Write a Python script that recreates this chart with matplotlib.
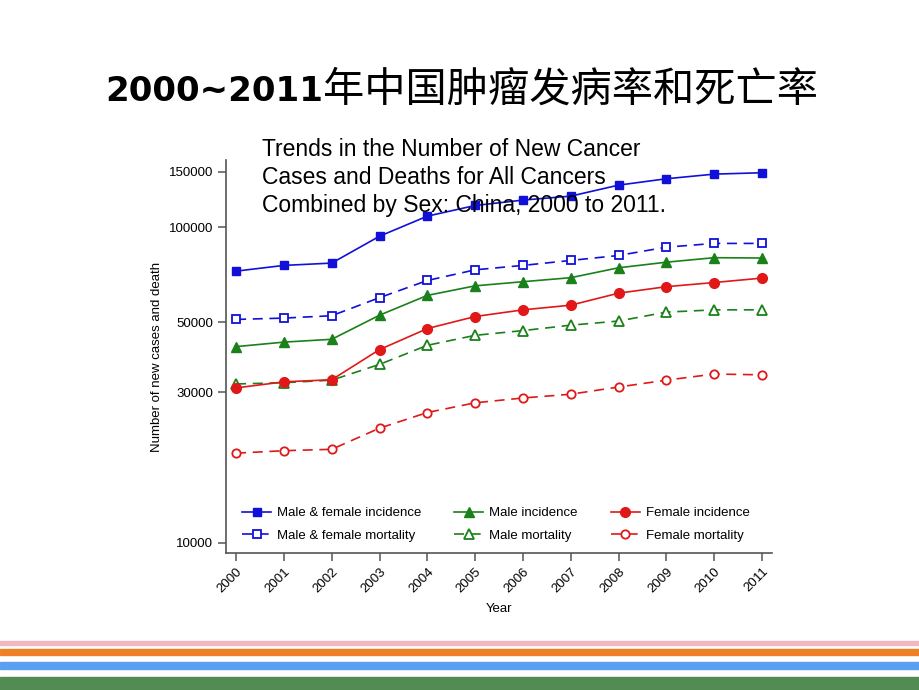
import matplotlib.pyplot as plt
from matplotlib.ticker import FixedLocator, NullLocator

years = [2000, 2001, 2002, 2003, 2004, 2005, 2006, 2007, 2008, 2009, 2010, 2011]
mf_incidence = [72700, 75800, 77100, 93800, 108600, 117400, 122100, 125700, 136200, 142700, 147600, 149100]
mf_mortality = [51100, 51600, 52500, 59900, 67900, 73400, 75800, 78600, 81500, 86600, 89000, 89000]
m_incidence = [41900, 43300, 44200, 52700, 60900, 65300, 67300, 69300, 74500, 77600, 80200, 80000]
m_mortality = [31900, 32200, 32800, 36800, 42300, 45500, 47100, 49000, 50500, 53900, 54800, 54800]
f_incidence = [31000, 32400, 32900, 41000, 47800, 52200, 54800, 56700, 61900, 64900, 66900, 69100]
f_mortality = [19250, 19600, 19800, 23100, 25900, 27800, 28800, 29600, 31200, 32800, 34300, 34100]
y_ticks = [10000, 30000, 50000, 100000, 150000]

blue = '#1010d8'
green = '#1a801a'
red = '#e01818'

plt.rcParams['font.family'] = ['Liberation Sans', 'DejaVu Sans']

fig = plt.figure(figsize=(9.2, 6.9), dpi=100)
ax = fig.add_axes([0.2457, 0.1986, 0.5935, 0.5696])

ms = 6
ax.plot(years, mf_incidence, '-s', color=blue, mfc=blue, mec=blue, ms=ms, lw=1.2, label='Male & female incidence')
ax.plot(years, mf_mortality, '--s', color=blue, mfc='white', mec=blue, mew=1.3, ms=ms, lw=1.2, dashes=(6, 4), label='Male & female mortality')
ax.plot(years, m_incidence, '-^', color=green, mfc=green, mec=green, ms=ms + 1, lw=1.2, label='Male incidence')
ax.plot(years, m_mortality, '--^', color=green, mfc='white', mec=green, mew=1.3, ms=ms + 1, lw=1.2, dashes=(6, 4), label='Male mortality')
ax.plot(years, f_incidence, '-o', color=red, mfc=red, mec=red, ms=ms + 1, lw=1.2, label='Female incidence')
ax.plot(years, f_mortality, '--o', color=red, mfc='white', mec=red, mew=1.3, ms=ms, lw=1.2, dashes=(6, 4), label='Female mortality')

ax.set_yscale('log')
ax.set_ylim(9290, 163700)
ax.set_xlim(1999.79, 2011.21)
ax.yaxis.set_major_locator(FixedLocator(y_ticks))
ax.yaxis.set_minor_locator(NullLocator())
ax.set_yticklabels([str(v) for v in y_ticks])
ax.set_xticks(years)
ax.set_xticklabels([str(y) for y in years], rotation=45, ha='right', rotation_mode='anchor')

for s in ['top', 'right']:
    ax.spines[s].set_visible(False)
for s in ['left', 'bottom']:
    ax.spines[s].set_color('#555555')
    ax.spines[s].set_linewidth(1.2)
ax.tick_params(axis='both', colors='#555555', labelcolor='black', labelsize=9.5, length=6, width=1.1)
ax.tick_params(axis='x', pad=3)

ax.set_ylabel('Number of new cases and death', fontsize=9.5, labelpad=4)
ax.set_xlabel('Year', fontsize=9.5, labelpad=6)

ax.legend(loc='lower left', bbox_to_anchor=(16 / 546, 0.028), ncol=3, frameon=False, fontsize=9.5,
          handlelength=2.2, handletextpad=0.45, columnspacing=2.5, borderaxespad=0, borderpad=0,
          labelspacing=0.8)

fig.text(262 / 920, 1 - 138 / 690, 'Trends in the Number of New Cancer\nCases and Deaths for All Cancers\nCombined by Sex: China, 2000 to 2011.',
         fontsize=16.5, va='top', ha='left', linespacing=1.27)

t1 = fig.text(105 / 920, 1 - 101 / 690, '2000~2011', fontsize=24.5, fontweight='bold', family='DejaVu Sans', va='baseline')
ax.annotate('年中国肿瘤发病率和死亡率', xy=(1, 0), xycoords=t1, xytext=(0, -2), textcoords='offset points',
            va='bottom', ha='left', fontsize=29.7, family=['Noto Sans CJK SC', 'DejaVu Sans'], annotation_clip=False)

# bottom stripes
stripes = [(641, 645, '#f1b8c0'), (649, 655, '#f08028'), (662, 669, '#5aa0f2'), (677, 690, '#528c52')]
for y0, y1, c in stripes:
    fig.patches.append(plt.Rectangle((0, 1 - y1 / 690), 1, (y1 - y0) / 690, transform=fig.transFigure, color=c, zorder=0))

fig.savefig('out.png', dpi=100)
